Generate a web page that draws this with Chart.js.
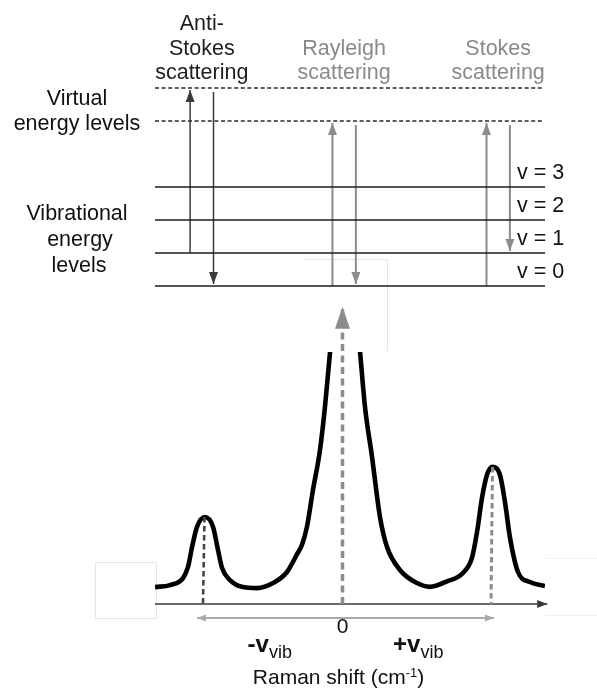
<!DOCTYPE html>
<html>
<head>
<meta charset="utf-8">
<title>Raman scattering</title>
<script src="https://cdn.jsdelivr.net/npm/chart.js@4.4.1/dist/chart.umd.min.js"></script>
<style>
  html, body { margin: 0; padding: 0; background: #fff; overflow: hidden; }
  .stage { position: relative; width: 597px; height: 697px; }
  .stage canvas { position: absolute; left: 0; }
  #levels-canvas { top: 0; }
  #spectrum-canvas { top: 300px; }
  .frame { position: absolute; border: 0 solid #e6e6e6; }
</style>
</head>
<body>
<div class="stage">
  <!-- faint leftover text-box frames -->
  <div class="frame" style="left:95px; top:562px; width:60px; height:55px; border-width:1px;"></div>
  <div class="frame" style="left:303px; top:259px; width:84px; height:91px; border-top-width:1px; border-right-width:1px;"></div>
  <div class="frame" style="left:545px; top:558px; width:52px; height:56px; border-top-width:1px; border-bottom-width:1px; border-color:#f0f0f0;"></div>
  <canvas id="levels-canvas" width="597" height="300"></canvas>
  <canvas id="spectrum-canvas" width="597" height="397"></canvas>
</div>
<script>
  // ---- energy level diagram ----
  const vibLevels = [0, 1, 2, 3];
  const vibLabels = ['v = 0', 'v = 1', 'v = 2', 'v = 3'];
  const virtualLevels = [5, 6];
  const processNames = [['Anti-', 'Stokes', 'scattering'], ['Rayleigh', 'scattering'], ['Stokes', 'scattering']];
  const processX = [12, 48.5, 88];
  const absorbFrom = [1, 0, 0];
  const absorbTo = [6, 5, 5];
  const emitFrom = [6, 5, 5];
  const emitTo = [0, 0, 1];

  // ---- Raman spectrum ----
  const shiftValues = [
    -1.25, -1.15, -1.063, -1.03, -1.003, -0.97, -0.917, -0.863, -0.83, -0.803, -0.75, -0.663,
    -0.57, -0.463, -0.37, -0.303, -0.27, -0.237, -0.197, -0.15, -0.117, -0.083, -0.05, 0,
    0.085, 0.117, 0.15, 0.197, 0.25, 0.297, 0.383, 0.497, 0.583, 0.697, 0.803, 0.863,
    0.897, 0.93, 0.963, 1.0, 1.05, 1.083, 1.117, 1.17, 1.25, 1.35
  ];
  const intensityValues = [
    0.067, 0.075, 0.103, 0.147, 0.226, 0.306, 0.345, 0.306, 0.214, 0.143, 0.095, 0.067,
    0.063, 0.083, 0.127, 0.198, 0.235, 0.306, 0.452, 0.611, 0.782, 1.0, 1.2, 1.5,
    1.2, 1.0, 0.782, 0.583, 0.345, 0.226, 0.135, 0.083, 0.068, 0.09, 0.123, 0.183,
    0.286, 0.421, 0.512, 0.544, 0.512, 0.405, 0.262, 0.127, 0.087, 0.071
  ];
  const antiStokesShift = -0.92;
  const stokesShift = 1.0;
  const antiStokesPeak = 0.345;
  const stokesPeak = 0.544;
  const rayleighArrowTop = 1.18;
  const shiftSpan = [-0.97, 1.01];
  const axisEnd = 1.365;

  const FONT = '"Liberation Sans", Arial, sans-serif';

  // filled arrow heads at the end (or both ends) of flagged datasets
  const arrowHeads = {
    id: 'arrowHeads',
    afterDatasetsDraw(chart) {
      const ctx = chart.ctx;
      chart.data.datasets.forEach((ds, i) => {
        if (!ds.arrow) return;
        const pts = chart.getDatasetMeta(i).data;
        const n = pts.length;
        const pairs = [[pts[n - 2], pts[n - 1]]];
        if (ds.arrow === 'both') pairs.push([pts[1], pts[0]]);
        ctx.save();
        ctx.fillStyle = ds.borderColor;
        pairs.forEach(([a, b]) => {
          const ang = Math.atan2(b.y - a.y, b.x - a.x);
          const len = ds.headLength || 10, w = (ds.headWidth || 8) / 2;
          const bx = b.x - Math.cos(ang) * len, by = b.y - Math.sin(ang) * len;
          ctx.beginPath();
          ctx.moveTo(b.x, b.y);
          ctx.lineTo(bx - Math.sin(ang) * w, by + Math.cos(ang) * w);
          ctx.lineTo(bx + Math.sin(ang) * w, by - Math.cos(ang) * w);
          ctx.closePath();
          ctx.fill();
        });
        ctx.restore();
      });
    }
  };

  const diagramText = {
    id: 'diagramText',
    afterDraw(chart) {
      const { ctx, chartArea, scales: { x, y } } = chart;
      ctx.save();
      ctx.font = '21.5px ' + FONT;
      ctx.textAlign = 'center';
      ctx.textBaseline = 'alphabetic';
      processNames.forEach((lines, i) => {
        ctx.fillStyle = i === 0 ? '#1e1e1e' : '#8a8a8a';
        const cx = x.getPixelForValue(processX[i]);
        const bottom = y.getPixelForValue(virtualLevels[1]) - 9;
        lines.forEach((t, k) => ctx.fillText(t, cx, bottom - (lines.length - 1 - k) * 24.5));
      });
      ctx.fillStyle = '#111';
      const lx = chartArea.left - 78;
      const vMid = y.getPixelForValue(5.5);
      ctx.fillText('Virtual', lx, vMid + 0.5);
      ctx.fillText('energy levels', lx, vMid + 25.5);
      const bMid = y.getPixelForValue(1.5);
      ctx.fillText('Vibrational', lx, bMid - 17);
      ctx.fillText('energy', lx + 3, bMid + 9);
      ctx.fillText('levels', lx + 2, bMid + 35);
      ctx.textAlign = 'left';
      vibLevels.forEach((lv, i) => {
        ctx.fillText(vibLabels[i], chartArea.right - 28, y.getPixelForValue(lv) - 8);
      });
      ctx.restore();
    }
  };

  const spectrumText = {
    id: 'spectrumText',
    afterDraw(chart) {
      const { ctx, chartArea, scales: { x } } = chart;
      const base = chartArea.bottom;
      ctx.save();
      ctx.fillStyle = '#111';
      ctx.textBaseline = 'alphabetic';
      ctx.textAlign = 'center';
      ctx.font = '21px ' + FONT;
      ctx.fillText('0', x.getPixelForValue(0), base + 29);

      const subLabel = (main, cx) => {
        ctx.textAlign = 'left';
        ctx.font = 'bold 24px ' + FONT;
        const w1 = ctx.measureText(main).width;
        ctx.font = '18px ' + FONT;
        const w2 = ctx.measureText('vib').width;
        const left = cx - (w1 + w2) / 2;
        ctx.font = 'bold 24px ' + FONT;
        ctx.fillText(main, left, base + 48);
        ctx.font = '18px ' + FONT;
        ctx.fillText('vib', left + w1, base + 54);
      };
      subLabel('-v', x.getPixelForValue((shiftSpan[0] + 0) / 2));
      subLabel('+v', x.getPixelForValue((shiftSpan[1] + 0) / 2));

      // axis title with superscript
      ctx.font = '21px ' + FONT;
      const t1 = 'Raman shift (cm', t3 = ')';
      const w1 = ctx.measureText(t1).width, w3 = ctx.measureText(t3).width;
      ctx.font = '13px ' + FONT;
      const w2 = ctx.measureText('-1').width;
      let left = x.getPixelForValue(0) - 4 - (w1 + w2 + w3) / 2;
      ctx.textAlign = 'left';
      ctx.font = '21px ' + FONT;
      ctx.fillText(t1, left, base + 80);
      ctx.font = '13px ' + FONT;
      ctx.fillText('-1', left + w1, base + 73);
      ctx.font = '21px ' + FONT;
      ctx.fillText(t3, left + w1 + w2, base + 80);
      ctx.restore();
    }
  };

  const hiddenScales = (xMin, xMax, yMin, yMax) => ({
    x: { type: 'linear', display: false, min: xMin, max: xMax },
    y: { type: 'linear', display: false, min: yMin, max: yMax }
  });

  const baseOptions = {
    responsive: false,
    animation: false,
    events: [],
    plugins: { legend: { display: false }, tooltip: { enabled: false } },
    elements: { point: { radius: 0 }, line: { tension: 0 } }
  };

  // energy diagram datasets
  const levelSets = [];
  vibLevels.forEach(lv => levelSets.push({
    data: [{ x: 0, y: lv }, { x: 100, y: lv }],
    borderColor: '#1c1c1c', borderWidth: 1.6, showLine: true, clip: false
  }));
  virtualLevels.forEach(lv => levelSets.push({
    data: [{ x: 0, y: lv }, { x: 99.7, y: lv }],
    borderColor: '#2a2a2a', borderWidth: 1.4, borderDash: [4, 2.6], showLine: true, clip: false
  }));
  const tipGap = 0.06, startGap = 0.12;
  processX.forEach((px, i) => {
    const col = i === 0 ? '#3a3a3a' : '#8c8c8c';
    const bw = i === 0 ? 1.5 : 2;
    levelSets.push({
      data: [{ x: px - 3, y: absorbFrom[i] }, { x: px - 3, y: absorbTo[i] - tipGap }],
      borderColor: col, borderWidth: bw, showLine: true, clip: false,
      arrow: 'end', headLength: 12, headWidth: 9
    });
    levelSets.push({
      data: [{ x: px + 3, y: emitFrom[i] - startGap }, { x: px + 3, y: emitTo[i] + tipGap }],
      borderColor: col, borderWidth: bw, showLine: true, clip: false,
      arrow: 'end', headLength: 12, headWidth: 9
    });
  });

  new Chart(document.getElementById('levels-canvas'), {
    type: 'scatter',
    data: { datasets: levelSets },
    options: Object.assign({}, baseOptions, {
      layout: { padding: { left: 155, right: 52, top: 88, bottom: 14 } },
      scales: hiddenScales(0, 100, 0, 6)
    }),
    plugins: [arrowHeads, diagramText]
  });

  // spectrum datasets
  const spectrumSets = [
    {
      label: 'Rayleigh line',
      data: [{ x: 0, y: 0 }, { x: 0, y: rayleighArrowTop }],
      borderColor: '#8c8c8c', borderWidth: 3.5, borderDash: [7, 4.5], showLine: true, clip: false,
      arrow: 'end', headLength: 22, headWidth: 15
    },
    {
      label: 'anti-Stokes line',
      data: [{ x: antiStokesShift, y: antiStokesPeak }, { x: antiStokesShift - 0.01, y: 0 }],
      borderColor: '#454545', borderWidth: 2.6, borderDash: [5.5, 3.5], showLine: true, clip: false
    },
    {
      label: 'Stokes line',
      data: [{ x: stokesShift, y: stokesPeak }, { x: stokesShift - 0.01, y: 0 }],
      borderColor: '#8c8c8c', borderWidth: 3, borderDash: [5.5, 3.5], showLine: true, clip: false
    },
    {
      label: 'spectrum',
      data: shiftValues.map((s, i) => ({ x: s, y: intensityValues[i] })),
      borderColor: '#000', borderWidth: 4.6, showLine: true,
      cubicInterpolationMode: 'monotone', borderJoinStyle: 'round'
    },
    {
      label: 'shift axis',
      data: [{ x: shiftValues[0], y: 0 }, { x: axisEnd, y: 0 }],
      borderColor: '#3a3a3a', borderWidth: 1.5, showLine: true, clip: false,
      arrow: 'end', headLength: 10, headWidth: 8
    },
    {
      label: 'shift span',
      data: [{ x: shiftSpan[0], y: -0.056 }, { x: shiftSpan[1], y: -0.056 }],
      borderColor: '#aaaaaa', borderWidth: 2, showLine: true, clip: false,
      arrow: 'both', headLength: 9, headWidth: 7
    }
  ];

  new Chart(document.getElementById('spectrum-canvas'), {
    type: 'scatter',
    data: { datasets: spectrumSets },
    options: Object.assign({}, baseOptions, {
      layout: { padding: { left: 155, right: 52, top: 52, bottom: 93 } },
      scales: hiddenScales(-1.25, 1.35, 0, 1)
    }),
    plugins: [arrowHeads, spectrumText]
  });
</script>
</body>
</html>
